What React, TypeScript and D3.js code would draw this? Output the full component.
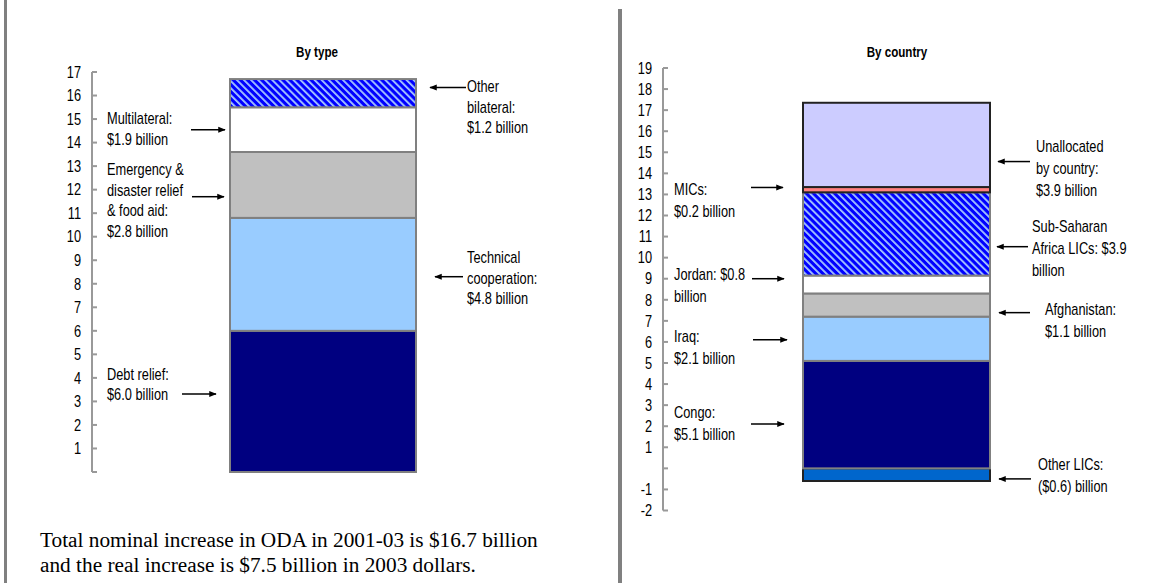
import React from "react";
import * as d3 from "d3";

// ---------- data ----------
const typeCategories = ["Debt relief", "Technical cooperation", "Emergency & disaster relief & food aid", "Multilateral", "Other bilateral"];
const typeValues = [6.0, 4.8, 2.8, 1.9, 1.2];
const typeTicks = [1, 2, 3, 4, 5, 6, 7, 8, 9, 10, 11, 12, 13, 14, 15, 16, 17];

const countryCategories = ["Other LICs", "Congo", "Iraq", "Afghanistan", "Jordan", "Sub-Saharan Africa LICs", "MICs", "Unallocated by country"];
const countryValues = [-0.6, 5.1, 2.1, 1.1, 0.85, 3.95, 0.25, 4.0];
const countryTicks = [-2, -1, 0, 1, 2, 3, 4, 5, 6, 7, 8, 9, 10, 11, 12, 13, 14, 15, 16, 17, 18, 19];

const typeLabels = [
  ["Debt relief:", "$6.0 billion"],
  ["Technical", "cooperation:", "$4.8 billion"],
  ["Emergency &", "disaster relief", "& food aid:", "$2.8 billion"],
  ["Multilateral:", "$1.9 billion"],
  ["Other", "bilateral:", "$1.2 billion"],
];
const countryLabels = [
  ["Other LICs:", "($0.6) billion"],
  ["Congo:", "$5.1 billion"],
  ["Iraq:", "$2.1 billion"],
  ["Afghanistan:", "$1.1 billion"],
  ["Jordan: $0.8", "billion"],
  ["Sub-Saharan", "Africa LICs: $3.9", "billion"],
  ["MICs:", "$0.2 billion"],
  ["Unallocated", "by country:", "$3.9 billion"],
];
const footnote = [
  "Total nominal increase in ODA in 2001-03 is $16.7 billion",
  "and the real increase is $7.5 billion in 2003 dollars.",
];

// ---------- styles ----------
const typeFills = ["#000080", "#99CCFF", "#C0C0C0", "#FFFFFF", "url(#hatch)"];
const countryFills = ["#0066CC", "#000080", "#99CCFF", "#C0C0C0", "#FFFFFF", "url(#hatch)", "#FF8080", "#CCCCFF"];
const countryStrokes = ["#222", "#808080", "#808080", "#808080", "#808080", "#808080", "#222", "#222"];

// annotation placement (value units for y, pixels for x)
const typeAnn = [
  { textY: 4.17, arrowY: 3.32, tx: 107, ax1: 182, ax2: 216 },
  { textY: 9.11, arrowY: 8.3, tx: 467, ax1: 463, ax2: 435 },
  { textY: 12.85, arrowY: 11.7, tx: 107, ax1: 192, ax2: 224 },
  { textY: 15.02, arrowY: 14.55, tx: 107, ax1: 191, ax2: 225 },
  { textY: 16.38, arrowY: 16.34, tx: 467, ax1: 466, ax2: 430 },
];
const countryAnn = [
  { textY: 0.21, arrowY: -0.5, tx: 1038, ax1: 1031, ax2: 999 },
  { textY: 2.68, arrowY: 2.11, tx: 674, ax1: 751, ax2: 784 },
  { textY: 6.25, arrowY: 6.1, tx: 674, ax1: 753, ax2: 787 },
  { textY: 7.53, arrowY: 7.39, tx: 1045, ax1: 1030, ax2: 999 },
  { textY: 9.19, arrowY: 9.0, tx: 674, ax1: 752, ax2: 784 },
  { textY: 11.47, arrowY: 10.52, tx: 1032, ax1: 1028, ax2: 997 },
  { textY: 13.23, arrowY: 13.33, tx: 674, ax1: 751, ax2: 783 },
  { textY: 15.27, arrowY: 14.56, tx: 1036, ax1: 1030, ax2: 998 },
];

const FONT = "'Liberation Sans Narrow', 'Arial Narrow', 'Liberation Sans', Arial, sans-serif";
const SQUEEZE = 0.8;

// condensed text (narrow-font look)
function NText(props: { x: number; y: number; anchor?: string; size?: number; bold?: boolean; children: any }) {
  return (
    <g transform={`translate(${props.x},${props.y}) scale(${SQUEEZE},1)`}>
      <text
        x={0}
        y={0}
        dy="0.36em"
        textAnchor={props.anchor || "start"}
        fontFamily={FONT}
        fontWeight={props.bold ? "bold" : "normal"}
        fontSize={props.size || 16}
        fill="#000"
      >
        {props.children}
      </text>
    </g>
  );
}

function stack(values: number[]) {
  let pos = 0;
  let neg = 0;
  return values.map((v) => {
    if (v >= 0) {
      const s = { y0: pos, y1: pos + v };
      pos += v;
      return s;
    }
    const s = { y0: neg + v, y1: neg };
    neg += v;
    return s;
  });
}

function Panel(props: {
  title: string;
  titleX: number;
  y: d3.ScaleLinear<number, number>;
  axisX: number;
  ticks: number[];
  axisMin: number;
  axisMax: number;
  x: d3.ScaleBand<string>;
  cats: string[];
  values: number[];
  fills: string[];
  strokes: string[];
  labels: string[][];
  ann: { textY: number; arrowY: number; tx: number; ax1: number; ax2: number }[];
  lineGap: number;
  hideZero?: boolean;
}) {
  const { y, axisX, ticks, x, cats, values, fills, strokes, labels, ann, lineGap } = props;
  const st = stack(values);
  return (
    <g>
      <NText x={props.titleX} y={52} anchor="middle" size={14.5} bold>
        {props.title}
      </NText>
      {/* axis */}
      <line x1={axisX} x2={axisX} y1={y(props.axisMax)} y2={y(props.axisMin)} stroke="#999" strokeWidth={2} />
      {ticks.map((t) => (
        <g key={t}>
          <line x1={axisX} x2={axisX + 5} y1={y(t)} y2={y(t)} stroke="#999" strokeWidth={2} />
          {!(props.hideZero && t === 0) && (
            <NText x={axisX - 11} y={y(t)} anchor="end" size={16}>
              {t}
            </NText>
          )}
        </g>
      ))}
      {props.axisMin === 0 && <line x1={axisX} x2={axisX + 5} y1={y(0)} y2={y(0)} stroke="#999" strokeWidth={2} />}
      {/* bars: one stacked column */}
      {cats.map((c, i) => (
        <rect
          key={c}
          x={x("col")}
          width={x.bandwidth()}
          y={y(st[i].y1)}
          height={y(st[i].y0) - y(st[i].y1)}
          fill={fills[i]}
          stroke={strokes[i]}
          strokeWidth={2}
        />
      ))}
      {/* annotations */}
      {ann.map((a, i) => (
        <g key={i}>
          {labels[i].map((ln, j) => (
            <NText key={j} x={a.tx} y={y(a.textY) + j * lineGap} size={16}>
              {ln}
            </NText>
          ))}
          <line x1={a.ax1} x2={a.ax2} y1={y(a.arrowY)} y2={y(a.arrowY)} stroke="#000" strokeWidth={1.5} markerEnd="url(#arrow)" />
        </g>
      ))}
    </g>
  );
}

export default function App() {
  const yType = d3.scaleLinear().domain([0, 17]).range([472, 72]);
  const yCountry = d3.scaleLinear().domain([-2, 19]).range([510.5, 68]);
  const xType = d3.scaleBand<string>().domain(["col"]).range([230, 416]).padding(0);
  const xCountry = d3.scaleBand<string>().domain(["col"]).range([803, 990]).padding(0);

  return (
    <svg width={1165} height={583} style={{ position: "absolute", left: 0, top: 0, background: "#fff" }}>
      <defs>
        <pattern id="hatch" patternUnits="userSpaceOnUse" width={5} height={5} patternTransform="rotate(-45)">
          <rect width={5} height={5} fill="#0000FF" />
          <rect width={1.8} height={5} fill="#AACCFF" />
        </pattern>
        <marker id="arrow" viewBox="0 0 10 10" refX={9} refY={5} markerWidth={5} markerHeight={5} orient="auto" markerUnits="strokeWidth">
          <path d="M0,1 L10,5 L0,9 z" fill="#000" />
        </marker>
      </defs>
      <rect x={0} y={0} width={1165} height={583} fill="#fff" />
      <line x1={5.5} x2={5.5} y1={0} y2={583} stroke="#808080" strokeWidth={3} />
      <line x1={620} x2={620} y1={9} y2={583} stroke="#808080" strokeWidth={4} />

      <Panel
        title="By type"
        titleX={317}
        y={yType}
        axisX={92}
        ticks={typeTicks}
        axisMin={0}
        axisMax={17}
        x={xType}
        cats={typeCategories}
        values={typeValues}
        fills={typeFills}
        strokes={typeCategories.map(() => "#808080")}
        labels={typeLabels}
        ann={typeAnn}
        lineGap={20.5}
      />
      <Panel
        title="By country"
        titleX={897}
        y={yCountry}
        axisX={663}
        ticks={countryTicks}
        axisMin={-2}
        axisMax={19}
        x={xCountry}
        cats={countryCategories}
        values={countryValues}
        fills={countryFills}
        strokes={countryStrokes}
        labels={countryLabels}
        ann={countryAnn}
        lineGap={22}
        hideZero
      />
      {footnote.map((ln, i) => (
        <text key={i} x={40} y={547 + i * 25} fontFamily="'Liberation Serif', 'Times New Roman', serif" fontSize={21.3} fill="#000">
          {ln}
        </text>
      ))}
    </svg>
  );
}
